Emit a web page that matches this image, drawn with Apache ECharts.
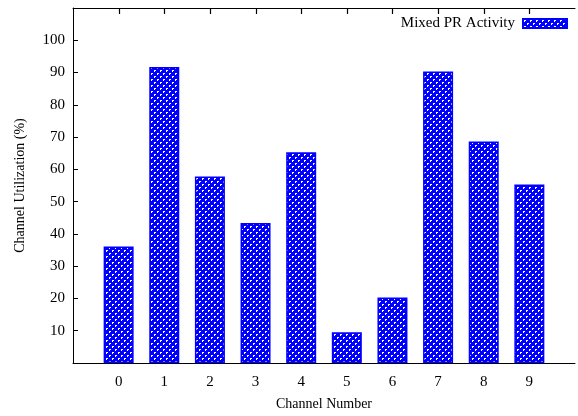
<!DOCTYPE html>
<html><head><meta charset="utf-8">
<script src="https://cdn.jsdelivr.net/npm/echarts@6/dist/echarts.min.js"></script>
<style>html,body{margin:0;padding:0;background:#fff}#c{width:578px;height:416px}</style>
</head><body><div id="c"></div>
<script>
const channels = [0,1,2,3,4,5,6,7,8,9];
const utilization = [36.1, 91.7, 57.8, 43.4, 65.3, 9.5, 20.3, 90.3, 68.6, 55.3];
const yTicks = [10,20,30,40,50,60,70,80,90,100];
const yMax = 110;
const seriesName = 'Mixed PR Activity';

const pc = document.createElement('canvas');
pc.width = 6; pc.height = 6;
const g = pc.getContext('2d');
g.fillStyle = '#0000ff'; g.fillRect(0,0,6,6);
g.fillStyle = '#ffffff';
g.fillRect(1,1,2,1); g.fillRect(4,4,2,1);
g.fillRect(1,1,1,2); g.fillRect(4,4,1,2);
const pattern = {image: pc, repeat: 'repeat'};

const font = 'Liberation Serif';
const chart = echarts.init(document.getElementById('c'));
chart.setOption({
  animation: false,
  grid: {left: 73, top: 8, width: 512, bottom: 51, containLabel: false},
  legend: {
    data: [seriesName], right: 10, top: 16, align: 'right', padding: 0,
    itemWidth: 44, itemHeight: 9, icon: 'rect', itemGap: 8,
    textStyle: {fontFamily: font, fontSize: 15, color: '#000', padding: [0, 3, 0, 0]}
  },
  xAxis: [{
    type: 'value', min: -1, max: 10, interval: 1, position: 'bottom',
    name: 'Channel Number', nameLocation: 'middle', nameGap: 34,
    nameTextStyle: {fontFamily: font, fontSize: 14, color: '#000'},
    axisLine: {show: true, onZero: false, lineStyle: {color: '#000', width: 1}},
    axisTick: {show: false},
    splitLine: {show: false},
    axisLabel: {fontFamily: font, fontSize: 15, color: '#000', margin: 12,
      formatter: v => channels.indexOf(v) >= 0 ? String(v) : ''}
  }, {
    type: 'value', min: -1, max: 10, interval: 1, position: 'top',
    axisLine: {show: true, onZero: false, lineStyle: {color: '#000', width: 1}},
    axisTick: {show: false},
    axisLabel: {show: false},
    splitLine: {show: false}
  }],
  yAxis: {
    type: 'value', min: 0, max: yMax, interval: 10,
    name: 'Channel Utilization (%)', nameLocation: 'middle', nameGap: 46,
    nameTextStyle: {fontFamily: font, fontSize: 14, color: '#000'},
    axisLine: {show: true, onZero: false, lineStyle: {color: '#000', width: 1}},
    axisTick: {show: true, inside: true, length: 5, lineStyle: {color: '#000'},
      customValues: yTicks},
    splitLine: {show: false},
    axisLabel: {fontFamily: font, fontSize: 15, color: '#000', margin: 8,
      customValues: yTicks}
  },
  series: [{
    name: seriesName, type: 'bar', barWidth: 30,
    data: channels.map((c, i) => [c, utilization[i]]),
    itemStyle: {color: pattern, borderColor: '#0000ff', borderWidth: 1.5}
  }, {
    name: 'topTicks', type: 'custom', silent: true, clip: false, z: 10,
    data: channels.map(c => [c, yMax]),
    renderItem: function (params, api) {
      const p = api.coord([api.value(0), api.value(1)]);
      const x = Math.round(p[0]) + 0.5;
      return {type: 'line', shape: {x1: x, y1: p[1], x2: x, y2: p[1] + 6},
        style: {stroke: '#000', lineWidth: 1.2, fill: null}};
    }
  }]
});
</script></body></html>
